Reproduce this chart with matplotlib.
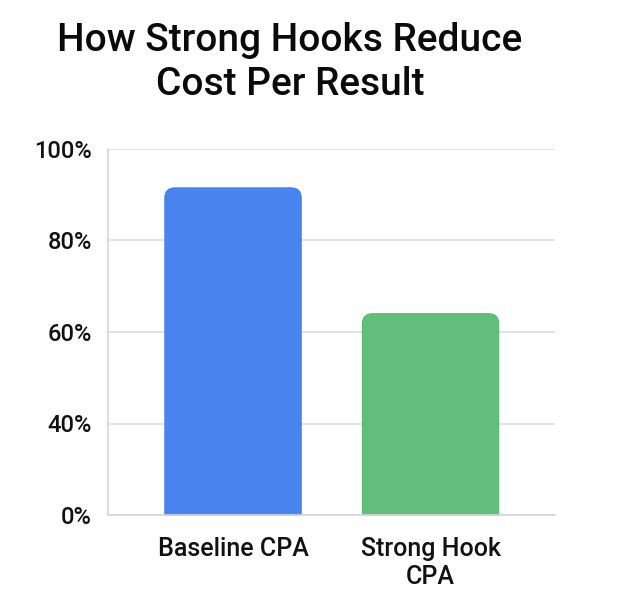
import numpy as np
import matplotlib
matplotlib.use("Agg")
import matplotlib.pyplot as plt
from matplotlib.path import Path
from matplotlib.patches import PathPatch
from matplotlib.transforms import IdentityTransform

# data
categories = ["Baseline CPA", "Strong Hook\nCPA"]
values = [91.5, 64]
bar_colors = ["#4A84EE", "#63BE7B"]
edge_colors = ["#3E7CF0", "#5AB872"]
tick_values = [0, 40, 60, 80, 100]
tick_labels = ["0%", "40%", "60%", "80%", "100%"]

plt.rcParams['font.family'] = ['Roboto', 'DejaVu Sans']

W, H = 620, 609
fig = plt.figure(figsize=(W / 100, H / 100), dpi=100)
fig.patch.set_facecolor("white")
ax = fig.add_axes([108 / W, (H - 515) / H, (555 - 108) / W, (515 - 149) / H])

# the y ticks are spaced evenly even though the values are not
pos = np.arange(len(tick_values))
def fwd(v):
    return np.interp(v, tick_values, pos)
def inv(p):
    return np.interp(p, pos, tick_values)
ax.set_yscale('function', functions=(fwd, inv))
ax.set_ylim(0, 100)
ax.set_yticks(tick_values, tick_labels)
ax.set_xlim(-0.633, 1.63)

x = np.arange(len(categories))
bars = ax.bar(x, values, width=0.69, color=bar_colors)
ax.set_xticks(x, categories)

# replace each bar with one that has rounded top corners
r = 10
for rect, fc, ec in zip(bars, bar_colors, edge_colors):
    x0 = rect.get_x()
    x1 = x0 + rect.get_width()
    (px0, py0), (px1, py1) = ax.transData.transform([(x0, 0), (x1, rect.get_height())])
    verts = [(px0, py0), (px0, py1 - r), (px0, py1), (px0 + r, py1),
             (px1 - r, py1), (px1, py1), (px1, py1 - r), (px1, py0), (px0, py0)]
    codes = [Path.MOVETO, Path.LINETO, Path.CURVE3, Path.CURVE3,
             Path.LINETO, Path.CURVE3, Path.CURVE3, Path.LINETO, Path.CLOSEPOLY]
    ax.add_patch(PathPatch(Path(verts, codes), facecolor=fc, edgecolor=ec, lw=0.8,
                           transform=IdentityTransform(), zorder=3, clip_on=False))
    rect.set_visible(False)

ax.yaxis.grid(True, color="#DDDDDD", lw=1.2)
ax.set_axisbelow(True)
for s in ["top", "right"]:
    ax.spines[s].set_visible(False)
for s in ["left", "bottom"]:
    ax.spines[s].set_color("#D6D6D6")
    ax.spines[s].set_linewidth(1.2)
    ax.spines[s].set_zorder(4)

ax.tick_params(axis="y", length=0, pad=11.5, labelsize=17)
ax.tick_params(axis="x", length=0, pad=15.5, labelsize=18)
for lab in ax.get_yticklabels() + ax.get_xticklabels():
    lab.set_fontweight("medium")
    lab.set_color("#111111")
for lab in ax.get_xticklabels():
    lab.set_linespacing(1.22)

fig.text(290 / W, 1 - 22 / H, "How Strong Hooks Reduce\nCost Per Result",
         ha="center", va="top", fontsize=28, fontweight="medium",
         linespacing=1.25, color="#0A0A0A")

fig.savefig("out.png", dpi=100)
